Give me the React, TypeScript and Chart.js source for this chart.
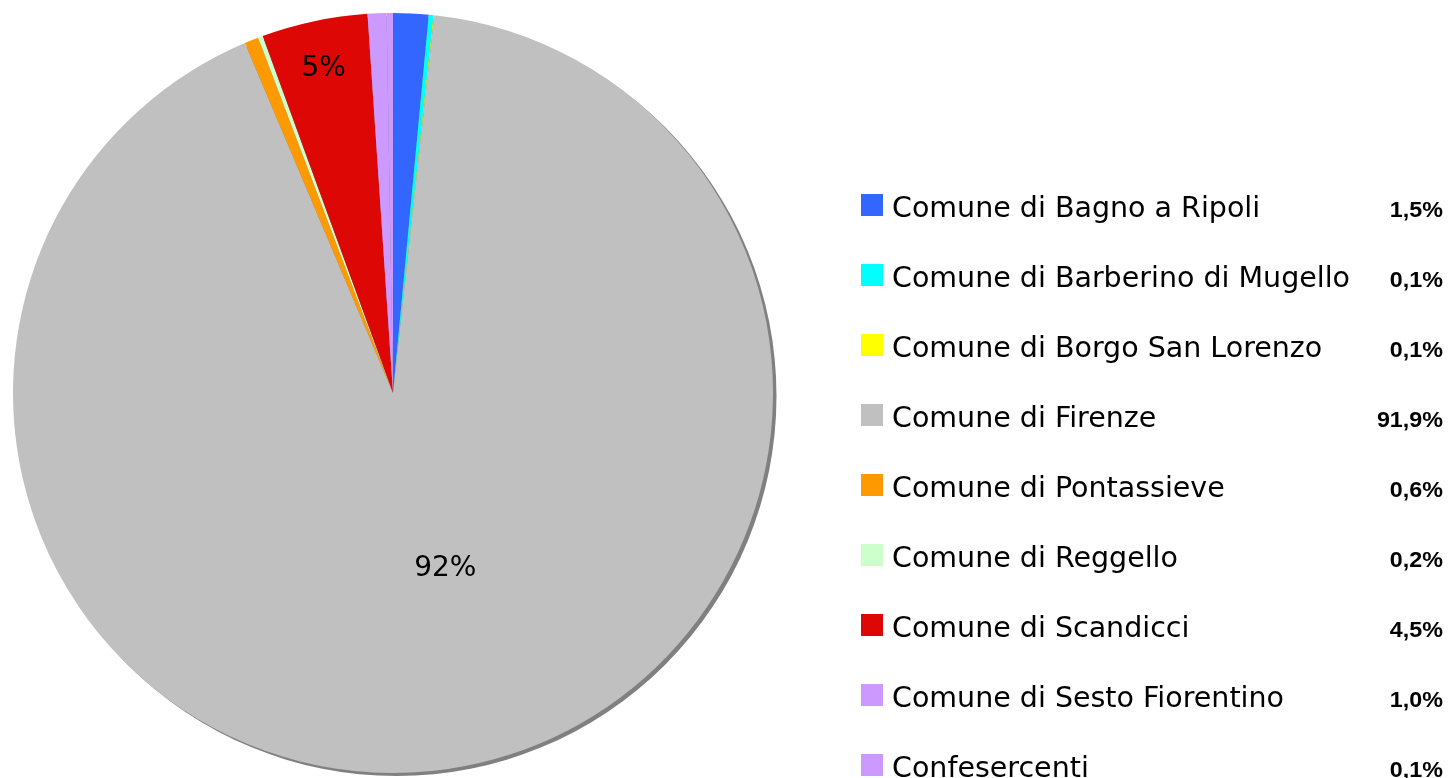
import React, { useEffect, useRef } from "react";
import { Chart, registerables } from "chart.js";

Chart.register(...registerables);

const categories = [
  "Comune di Bagno a Ripoli",
  "Comune di Barberino di Mugello",
  "Comune di Borgo San Lorenzo",
  "Comune di Firenze",
  "Comune di Pontassieve",
  "Comune di Reggello",
  "Comune di Scandicci",
  "Comune di Sesto Fiorentino",
  "Confesercenti",
];

// slice sizes (percent)
const shares = [1.5, 0.2, 0.03, 91.9, 0.6, 0.2, 4.5, 0.8, 0.27];

// percentages printed in the legend column
const shareLabels = ["1,5%", "0,1%", "0,1%", "91,9%", "0,6%", "0,2%", "4,5%", "1,0%", "0,1%"];

const sliceColors = [
  "#3366FF",
  "#00FFFF",
  "#FFFF00",
  "#C0C0C0",
  "#FF9900",
  "#CCFFCC",
  "#DD0806",
  "#CC99FF",
  "#CC99FF",
];

const W = 1448;
const H = 778;

const shadowPlugin = {
  id: "pieShadow",
  beforeDatasetsDraw(chart: any) {
    const meta = chart.getDatasetMeta(0);
    const arc = meta.data[0];
    if (!arc) return;
    const { x, y, outerRadius } = arc.getProps(["x", "y", "outerRadius"], true);
    const ctx = chart.ctx;
    ctx.save();
    ctx.fillStyle = "#808080";
    ctx.beginPath();
    ctx.arc(x + 3.5, y + 3, outerRadius, 0, Math.PI * 2);
    ctx.fill();
    ctx.restore();
  },
};

const sliceLabelPlugin = {
  id: "sliceLabels",
  afterDatasetsDraw(chart: any) {
    const meta = chart.getDatasetMeta(0);
    const data = chart.data.datasets[0].data as number[];
    const total = data.reduce((a, b) => a + b, 0);
    const ctx = chart.ctx;
    const fontSize = 28;
    ctx.save();
    ctx.font = fontSize + 'px "DejaVu Sans"';
    ctx.fillStyle = "#000";
    ctx.textAlign = "center";
    ctx.textBaseline = "alphabetic";
    meta.data.forEach((arc: any, i: number) => {
      const pct = Math.round((data[i] / total) * 100 + 1e-9);
      if (pct < 5) return;
      const p = arc.getProps(["x", "y", "startAngle", "endAngle", "outerRadius"], true);
      const span = p.endAngle - p.startAngle;
      const big = span > Math.PI;
      const mid = (p.startAngle + p.endAngle) / 2 - (big ? (8.5 * Math.PI) / 180 : 0);
      const frac = big ? 0.475 : 0.88;
      const r = p.outerRadius * frac;
      const cx = p.x + Math.cos(mid) * r;
      const cy = p.y + Math.sin(mid) * r;
      ctx.fillText(pct + "%", cx, cy + fontSize * 0.365);
    });
    ctx.restore();
  },
};

const legendPlugin = {
  id: "sideLegend",
  afterDraw(chart: any) {
    const ctx = chart.ctx;
    const labels = chart.data.labels as string[];
    const colors = chart.data.datasets[0].backgroundColor as string[];
    ctx.save();
    labels.forEach((label, i) => {
      const base = 217 + i * 70;
      ctx.fillStyle = colors[i];
      ctx.fillRect(861, base - 23, 22, 22);
      ctx.fillStyle = "#000";
      ctx.font = '28.5px "DejaVu Sans"';
      ctx.textAlign = "left";
      ctx.textBaseline = "alphabetic";
      ctx.fillText(label, 892, base);
      ctx.save();
      ctx.translate(1443, base);
      ctx.scale(1.06, 1);
      ctx.font = 'bold 22px "Liberation Sans", Arial, sans-serif';
      ctx.textAlign = "right";
      ctx.fillText(shareLabels[i], 0, 0);
      ctx.restore();
    });
    ctx.restore();
  },
};

export default function App() {
  const canvasRef = useRef<HTMLCanvasElement | null>(null);

  useEffect(() => {
    document.body.style.margin = "0";
    const canvas = canvasRef.current;
    if (!canvas) return;
    const chart = new Chart(canvas, {
      type: "pie",
      data: {
        labels: categories,
        datasets: [
          {
            data: shares,
            backgroundColor: sliceColors,
            borderWidth: 0,
          },
        ],
      },
      options: {
        responsive: false,
        animation: false,
        layout: { padding: { left: 13, top: 13, right: 675, bottom: 5 } },
        plugins: {
          legend: { display: false },
          tooltip: { enabled: false },
        },
      },
      plugins: [shadowPlugin, sliceLabelPlugin, legendPlugin],
    });
    return () => chart.destroy();
  }, []);

  return (
    <div style={{ position: "absolute", left: 0, top: 0, width: W, height: H, background: "#fff" }}>
      <canvas ref={canvasRef} width={W} height={H} />
    </div>
  );
}
